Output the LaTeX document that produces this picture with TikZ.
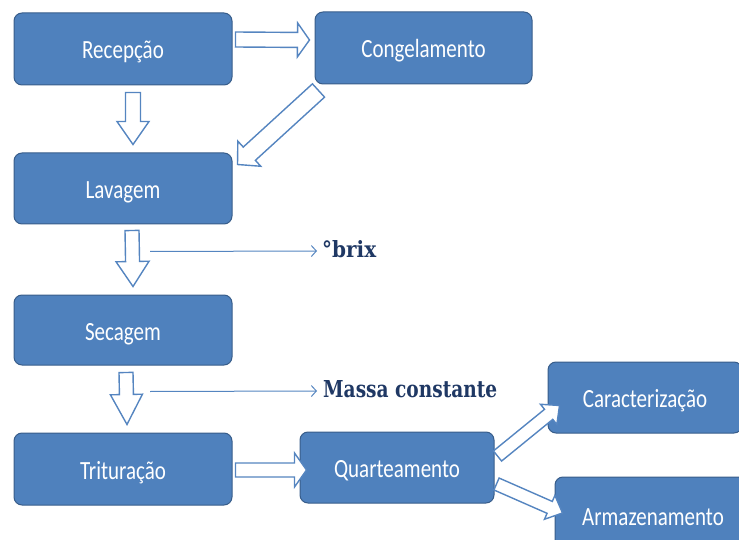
\documentclass[tikz,border=0pt]{standalone}
\usepackage{fontspec}
\setmainfont{Carlito}
\newfontfamily\slabfont{DejaVu Serif}
\usetikzlibrary{calc,arrows.meta}
\definecolor{boxfill}{HTML}{4F81BD}
\definecolor{boxline}{HTML}{385D8A}
\definecolor{arrline}{HTML}{5585C0}
\definecolor{labblue}{HTML}{1F3864}
\newcommand\tallt[1]{\scalebox{1}[1.25]{#1}}
\newcommand\hollowarrow[5]{%
  \coordinate (hb) at ($(#2)!#5!(#1)$);
  \draw[hollow] ($(#1)!#3!90:(#2)$) -- ($(hb)!#3!90:(#2)$) -- ($(hb)!#4!90:(#2)$) -- (#2)
    -- ($(hb)!#4!-90:(#2)$) -- ($(hb)!#3!-90:(#2)$) -- ($(#1)!#3!-90:(#2)$) -- cycle;}
\tikzset{
  stagebox/.style={draw=boxline, fill=boxfill, line width=1pt, rounded corners=8pt,
    text=white, font=\fontsize{21}{21}\selectfont, inner sep=0pt,
    text height=20pt, text depth=0pt},
  hollow/.style={draw=arrline, fill=white, line width=1.4pt, line join=miter},
  thinarrow/.style={draw=arrline, line width=1pt, -{Straight Barb[length=5pt,width=11pt]}},
  notelabel/.style={text=labblue, font=\slabfont\bfseries, inner sep=0pt, anchor=west},
}
\begin{document}
\begin{tikzpicture}[x=1pt,y=-1pt]
\path[use as bounding box, clip] (0,0) rectangle (739,540);

\node[stagebox, minimum width=218pt, minimum height=72pt] (rec) at (123,49) {\tallt{Recepção}};
\node[stagebox, minimum width=217pt, minimum height=72pt] (cong) at (423.5,48) {\tallt{Congelamento}};
\node[stagebox, minimum width=218pt, minimum height=71pt] (lav) at (123,188.5) {\tallt{Lavagem}};
\node[stagebox, minimum width=218pt, minimum height=70pt] (sec) at (123,330) {\tallt{Secagem}};
\node[stagebox, minimum width=218pt, minimum height=72pt] (trit) at (123,469) {\tallt{Trituração}};
\node[stagebox, minimum width=194pt, minimum height=71pt] (quart) at (397,467.5) {\tallt{Quarteamento}};
\node[stagebox, minimum width=194pt, minimum height=71pt] (carac) at (645,397.5) {\tallt{Caracterização}};
\node[stagebox, minimum width=196pt, minimum height=76pt] (armaz) at (653,515) {\tallt{Armazenamento}};

\node[notelabel] (brix) at (322,249.5) {\resizebox{54pt}{17pt}{°brix}};
\node[notelabel] (massa) at (323,389.5) {\resizebox{174pt}{17pt}{Massa constante}};

\coordinate (a1s) at ($(rec.east)+(3,-9.5)$);
\coordinate (a1e) at ($(cong.west)+(-5,-8)$);
\hollowarrow{a1s}{a1e}{7.5pt}{17pt}{12pt}
\coordinate (a2s) at ($(rec.south)+(10,7)$);
\coordinate (a2e) at ($(lav.north)+(10,-8)$);
\hollowarrow{a2s}{a2e}{7.5pt}{16pt}{23pt}
\coordinate (a3s) at ($(cong.south west)+(4,6)$);
\coordinate (a3e) at ($(lav.north east)+(5,12)$);
\hollowarrow{a3s}{a3e}{9pt}{17pt}{16pt}
\coordinate (a4s) at ($(lav.south)+(9,6)$);
\coordinate (a4e) at ($(sec.north)+(10,-8)$);
\hollowarrow{a4s}{a4e}{7pt}{16.5pt}{25pt}
\coordinate (a5s) at ($(sec.south)+(3,7)$);
\coordinate (a5e) at ($(trit.north)+(4,-8)$);
\hollowarrow{a5s}{a5e}{7pt}{16pt}{30pt}
\coordinate (a6s) at ($(trit.east)+(3,1)$);
\coordinate (a6e) at ($(quart.west)+(7,2.5)$);
\hollowarrow{a6s}{a6e}{7pt}{17pt}{12pt}
\coordinate (a7s) at ($(quart.east)+(3,-11.5)$);
\coordinate (a7e) at ($(carac.south west)+(12,-28)$);
\hollowarrow{a7s}{a7e}{6.5pt}{13pt}{14pt}
\coordinate (a8s) at ($(quart.east)+(2,16.5)$);
\coordinate (a8e) at ($(armaz.west)+(8,-2)$);
\hollowarrow{a8s}{a8e}{6.5pt}{13pt}{14pt}

\coordinate (t1s) at ($(lav.south)+(27,27)$);
\draw[thinarrow] (t1s) -- ($(brix.west)+(-5,1.5)$);
\coordinate (t2s) at ($(sec.south)+(27,26)$);
\draw[thinarrow] (t2s) -- ($(massa.west)+(-6,1.5)$);
\end{tikzpicture}
\end{document}
